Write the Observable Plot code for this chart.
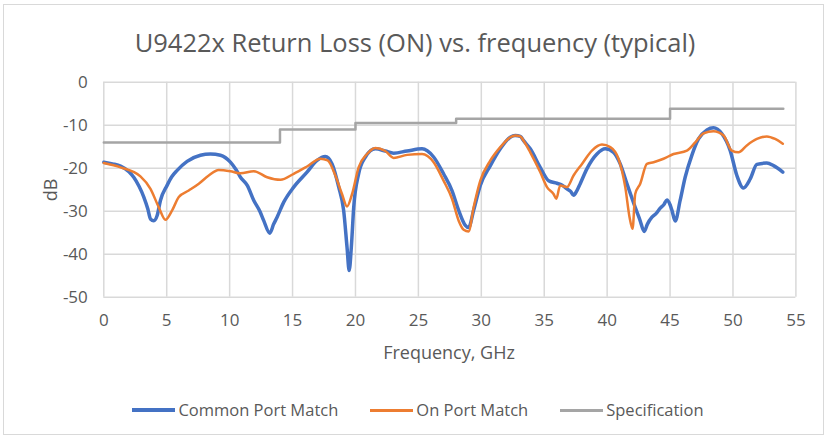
<!DOCTYPE html>
<html>
<head>
<meta charset="utf-8">
<script src="https://cdn.jsdelivr.net/npm/d3@7"></script>
<script src="https://cdn.jsdelivr.net/npm/@observablehq/plot@0.6"></script>
<style>
  html, body { margin: 0; padding: 0; background: #fff; }
  #wrap { position: relative; width: 828px; height: 438px; background: #fff; overflow: hidden;
          font-family: "Open Sans", sans-serif; color: #595959; }
  #border { position: absolute; left: 3px; top: 4px; width: 819px; height: 429px; border: 1px solid #D9D9D9; }
  #chart { position: absolute; left: 0; top: 0; }
  .title { position: absolute; left: 0; width: 830px; top: 25px; text-align: center; font-size: 25.5px; line-height: 34px; white-space: nowrap; }
  .xlabel { position: absolute; left: 103px; width: 692px; top: 340px; text-align: center; font-size: 18px; line-height: 24px; }
  .ylabel { position: absolute; left: 50px; top: 190px; font-size: 18px; line-height: 22px; transform: translate(-50%, -50%) rotate(-90deg); white-space: nowrap; }
  #legend { position: absolute; left: 4px; width: 828px; top: 398px; display: flex; justify-content: center; align-items: center; font-size: 16.5px; line-height: 24px; }
  .item { display: flex; align-items: center; margin: 0 16px; }
  .swatch { width: 43px; height: 0; margin-right: 3px; }
</style>
</head>
<body>
<div id="wrap">
  <div id="border"></div>
  <div id="chart"></div>
  <div class="title">U9422x Return Loss (ON) vs. frequency (typical)</div>
  <div class="xlabel">Frequency, GHz</div>
  <div class="ylabel">dB</div>
  <div id="legend"></div>
</div>
<script>
// Common Port Match (blue)
const commonFreq = [0,0.7,1.33,2.0,2.38,2.8,3.18,3.5,3.71,3.97,4.24,4.5,5.03,5.4,5.83,6.62,7.68,8.47,9.27,10.06,10.5,10.86,11.4,11.92,12.4,12.71,13.19,13.5,13.77,14.3,15.09,16.15,16.95,17.6,18.14,18.67,19.06,19.33,19.5,19.67,19.86,20.25,20.79,21.58,22.37,23.03,24.1,25.29,26.21,27.0,27.67,28.2,28.73,28.99,29.39,29.92,30.72,31.51,32.3,32.7,33.1,33.36,33.89,34.68,35.35,36.01,36.4,36.81,37.1,37.33,37.6,37.86,38.4,39.19,39.85,40.51,41.04,41.57,42.23,42.6,42.95,43.2,43.56,43.9,44.22,44.5,44.75,45.0,45.15,45.41,45.8,46.2,46.73,47.26,47.93,48.45,49.12,49.78,50.31,50.83,51.37,51.9,52.69,53.22,53.96];
const commonDb = [-18.6,-19.0,-19.5,-20.8,-22.1,-24.2,-26.7,-29.5,-31.8,-32.2,-31.0,-27.5,-24.0,-22.0,-20.5,-18.4,-17.0,-16.7,-17.0,-18.6,-20.3,-22.1,-24.0,-27.5,-30.0,-32.2,-35.1,-33.0,-31.4,-27.9,-24.4,-20.9,-18.2,-17.3,-19.0,-24.4,-29.8,-38.4,-43.8,-38.4,-29.1,-21.3,-17.4,-15.5,-16.0,-16.5,-16.0,-15.5,-17.4,-21.3,-25.2,-29.8,-33.3,-33.8,-29.8,-24.0,-19.4,-15.5,-12.8,-12.4,-12.6,-13.6,-15.5,-19.8,-22.9,-23.5,-23.9,-24.8,-25.4,-26.3,-25.2,-23.6,-20.1,-16.7,-15.5,-16.3,-19.0,-23.6,-29.1,-32.0,-34.7,-33.0,-31.4,-30.5,-29.3,-28.5,-27.4,-28.5,-29.8,-32.3,-27.5,-22.1,-17.0,-13.2,-11.1,-10.6,-12.0,-15.9,-21.7,-24.6,-22.5,-19.1,-18.8,-19.4,-20.9];

// On Port Match (orange)
const onFreq = [0,1.33,2.91,3.71,4.37,4.9,5.43,5.96,6.75,7.55,8.34,9.13,10.06,10.86,11.92,12.98,14.04,15.09,16.15,17.21,17.79,18.4,18.93,19.33,19.73,20.25,20.92,21.58,22.37,23.03,24.1,25.29,26.21,27.0,27.67,28.2,28.6,28.99,29.39,29.92,30.72,31.51,32.3,32.7,33.1,33.36,33.89,34.68,35.22,35.74,35.96,36.27,36.81,37.33,38.0,38.79,39.59,40.25,40.9,41.44,41.78,42.02,42.23,42.63,43.16,43.69,44.48,45.28,46.34,47.0,47.66,48.45,49.25,49.91,50.44,51.1,51.9,52.69,53.35,53.96];
const onDb = [-18.8,-19.8,-21.9,-24.8,-29.1,-32.0,-29.8,-26.7,-25.2,-23.6,-21.7,-20.4,-20.7,-21.2,-20.7,-22.1,-22.7,-21.3,-19.6,-17.8,-18.2,-21.7,-26.0,-28.9,-26.0,-19.8,-16.7,-15.3,-16.0,-17.6,-16.9,-16.7,-18.6,-22.9,-27.1,-32.2,-34.3,-34.7,-29.1,-22.9,-18.2,-15.1,-12.8,-12.4,-12.6,-13.6,-16.3,-20.9,-24.4,-26.0,-27.1,-24.0,-24.4,-21.7,-19.0,-15.9,-14.5,-15.1,-17.8,-24.4,-31.4,-34.1,-26.0,-23.6,-19.0,-18.6,-17.8,-16.7,-15.9,-14.0,-11.9,-11.4,-12.4,-15.9,-16.3,-14.7,-13.2,-12.6,-13.2,-14.3];

// Specification (grey, stepped)
const specFreq = [0,14,20,28,45,54];
const specDb = [-14,-11,-9.5,-8.5,-6.2,-6.2];

const xTicks = [0,5,10,15,20,25,30,35,40,45,50,55];
const yTicks = [0,-10,-20,-30,-40,-50];

const seriesNames = ["Common Port Match", "On Port Match", "Specification"];
const seriesColors = ["#4472C4", "#ED7D31", "#A5A5A5"];

const toRows = (xs, ys) => xs.map((x, i) => ({x, y: ys[i]}));
const common = toRows(commonFreq, commonDb);
const onPort = toRows(onFreq, onDb);
const spec = toRows(specFreq, specDb);

const chart = Plot.plot({
  width: 828,
  height: 438,
  marginLeft: 103.3,
  marginRight: 32.6,
  marginTop: 81.7,
  marginBottom: 141.3,
  style: {fontFamily: "'Open Sans', sans-serif", fontSize: "17px", color: "#595959", background: "transparent", overflow: "visible"},
  x: {domain: [0, 55]},
  y: {domain: [-50, 0]},
  marks: [
    Plot.gridX(xTicks, {stroke: "#D9D9D9", strokeOpacity: 1, strokeWidth: 1.5}),
    Plot.gridY(yTicks, {stroke: "#D9D9D9", strokeOpacity: 1, strokeWidth: 1.5}),
    Plot.axisX(xTicks, {tickSize: 0, tickPadding: 17, label: null, fontSize: 17, tickFormat: d => String(d)}),
    Plot.axisY(yTicks, {tickSize: 0, tickPadding: 16, label: null, fontSize: 17, tickFormat: d => String(d)}),
    Plot.line(spec, {x: "x", y: "y", stroke: seriesColors[2], strokeWidth: 2.5, curve: "step-after"}),
    Plot.line(common, {x: "x", y: "y", stroke: seriesColors[0], strokeWidth: 3.5, curve: "monotone-x"}),
    Plot.line(onPort, {x: "x", y: "y", stroke: seriesColors[1], strokeWidth: 2.5, curve: "monotone-x"})
  ]
});
document.getElementById("chart").appendChild(chart);

const legend = document.getElementById("legend");
seriesNames.forEach((name, i) => {
  const item = document.createElement("div");
  item.className = "item";
  const sw = document.createElement("div");
  sw.className = "swatch";
  sw.style.borderTop = (i === 0 ? 4 : 3) + "px solid " + seriesColors[i];
  const label = document.createElement("span");
  label.textContent = name;
  item.appendChild(sw);
  item.appendChild(label);
  legend.appendChild(item);
});
</script>
</body>
</html>
